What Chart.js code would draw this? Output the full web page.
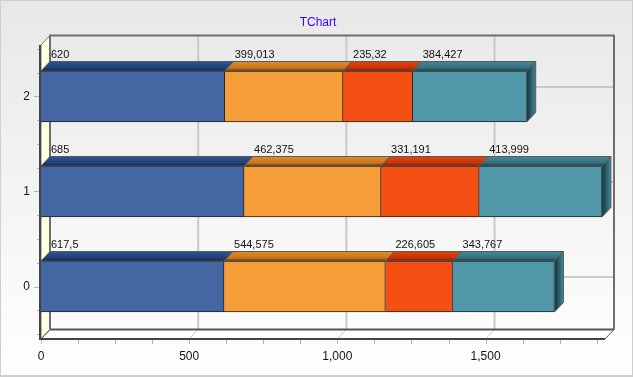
<!DOCTYPE html>
<html>
<head>
<meta charset="utf-8">
<title>TChart</title>
<script src="https://cdn.jsdelivr.net/npm/chart.js@4/dist/chart.umd.min.js"></script>
<style>
    html, body { margin: 0; padding: 0; background: #fff; }
    canvas { display: block; }
</style>
</head>
<body>
<canvas id="grafico" width="633" height="377"></canvas>
<script>
const categorias = [2, 1, 0];
const serie1 = [620, 685, 617.5];
const serie2 = [399.013, 462.375, 544.575];
const serie3 = [235.32, 331.191, 226.605];
const serie4 = [384.427, 413.999, 343.767];

const corFrente = ['#4466a3', '#f59d37', '#f55014', '#4f97a9'];
// topo das barras: claro, meio, escuro
const corTopo = [
    ['#2f5590', '#1f3f78', '#0b1c42'],
    ['#e08c2a', '#c8741a', '#603506'],
    ['#e2430c', '#c83206', '#701802'],
    ['#458898', '#33707f', '#0e323b']
];

// profundidade do efeito 3D
const DX = 9;
const DY = 9.5;

function paraRotulo(valor) {
    return String(valor).replace('.', ',');
}

const pluginFundo = {
    id: 'fundo3d',
    beforeDraw(chart) {
        const { ctx, width, height, chartArea: a, scales } = chart;
        const grad = ctx.createLinearGradient(0, 0, 0, height);
        grad.addColorStop(0, '#e8e8e8');
        grad.addColorStop(1, '#ffffff');
        ctx.save();
        ctx.fillStyle = grad;
        ctx.fillRect(0, 0, width, height);
        ctx.strokeStyle = '#cfcfcf';
        ctx.lineWidth = 2;
        ctx.strokeRect(0, 0, width, height - 1);

        // título
        ctx.fillStyle = '#3a00ff';
        ctx.font = '12px "Liberation Sans", sans-serif';
        ctx.textAlign = 'center';
        ctx.textBaseline = 'middle';
        ctx.fillText('TChart', 318, 23);

        // chão
        ctx.fillStyle = '#ffffff';
        ctx.beginPath();
        ctx.moveTo(a.left, a.bottom);
        ctx.lineTo(a.left + DX, a.bottom - DY);
        ctx.lineTo(a.right + DX, a.bottom - DY);
        ctx.lineTo(a.right, a.bottom);
        ctx.closePath();
        ctx.fill();

        // parede esquerda
        ctx.fillStyle = '#ffffe0';
        ctx.beginPath();
        ctx.moveTo(a.left, a.top);
        ctx.lineTo(a.left + DX, a.top - DY);
        ctx.lineTo(a.left + DX, a.bottom - DY);
        ctx.lineTo(a.left, a.bottom);
        ctx.closePath();
        ctx.fill();
        ctx.strokeStyle = '#777';
        ctx.lineWidth = 1;
        ctx.stroke();

        // grades na parede de trás
        ctx.strokeStyle = '#c9c9c9';
        ctx.lineWidth = 2;
        scales.x.ticks.filter(t => t.value > 0 && t.value % 500 === 0).forEach(t => {
            const x = scales.x.getPixelForValue(t.value);
            ctx.beginPath();
            ctx.moveTo(x + DX, a.top - DY);
            ctx.lineTo(x + DX, a.bottom - DY);
            ctx.stroke();
        });
        categorias.forEach(c => {
            const y = scales.y.getPixelForValue(c);
            ctx.beginPath();
            ctx.moveTo(a.left + DX, y - DY);
            ctx.lineTo(a.right + DX, y - DY);
            ctx.stroke();
        });
        ctx.lineWidth = 1;
        scales.x.ticks.filter(t => t.value > 0 && t.value % 500 === 0).forEach(t => {
            const x = scales.x.getPixelForValue(t.value);
            ctx.beginPath();
            ctx.moveTo(x + DX, a.bottom - DY);
            ctx.lineTo(x, a.bottom);
            ctx.stroke();
        });

        // contorno da parede de trás
        ctx.strokeStyle = '#6e6e6e';
        ctx.lineWidth = 2;
        ctx.beginPath();
        ctx.moveTo(a.left + DX, a.bottom - DY);
        ctx.lineTo(a.left + DX, a.top - DY);
        ctx.lineTo(a.right + DX, a.top - DY);
        ctx.lineTo(a.right + DX, a.bottom - DY);
        ctx.stroke();
        ctx.strokeStyle = '#555';
        ctx.beginPath();
        ctx.moveTo(a.left + DX, a.bottom - DY);
        ctx.lineTo(a.right + DX, a.bottom - DY);
        ctx.stroke();
        ctx.lineWidth = 1;
        ctx.beginPath();
        ctx.moveTo(a.right + DX, a.bottom - DY);
        ctx.lineTo(a.right, a.bottom);
        ctx.moveTo(a.left + DX, a.bottom - DY);
        ctx.lineTo(a.left, a.bottom);
        ctx.stroke();

        // marcas dos eixos
        ctx.strokeStyle = '#b4b4b4';
        ctx.lineWidth = 1;
        scales.y.ticks.forEach(t => {
            const y = Math.round(scales.y.getPixelForValue(t.value)) + 0.5;
            const comp = Number.isInteger(t.value) ? 6 : 3;
            ctx.beginPath();
            ctx.moveTo(a.left - 1 - comp, y);
            ctx.lineTo(a.left - 1, y);
            ctx.stroke();
        });
        scales.x.ticks.forEach(t => {
            const x = Math.round(scales.x.getPixelForValue(t.value)) + 0.5;
            ctx.beginPath();
            ctx.moveTo(x, a.bottom);
            ctx.lineTo(x, a.bottom + 5);
            ctx.stroke();
        });
        ctx.restore();
    },
    afterDatasetsDraw(chart) {
        const { ctx, chartArea: a } = chart;
        const total = chart.data.datasets.length;
        ctx.save();

        chart.data.datasets.forEach((ds, i) => {
            chart.getDatasetMeta(i).data.forEach((bar, j) => {
                const x0 = bar.base;
                const x1 = bar.x;
                const topo = bar.y - bar.height / 2;
                const base = bar.y + bar.height / 2;

                const grad = ctx.createLinearGradient(0, topo - DY, 0, topo);
                grad.addColorStop(0, corTopo[i][0]);
                grad.addColorStop(0.7, corTopo[i][1]);
                grad.addColorStop(1, corTopo[i][2]);
                ctx.fillStyle = grad;
                ctx.strokeStyle = '#5a5a5a';
                ctx.lineWidth = 1;
                ctx.beginPath();
                ctx.moveTo(x0, topo);
                ctx.lineTo(x0 + DX, topo - DY);
                ctx.lineTo(x1 + DX, topo - DY);
                ctx.lineTo(x1, topo);
                ctx.closePath();
                ctx.fill();
                ctx.stroke();

                // lado direito só na última série
                if (i === total - 1) {
                    const lado = ctx.createLinearGradient(x1, 0, x1 + DX, 0);
                    lado.addColorStop(0, corTopo[i][2]);
                    lado.addColorStop(1, corTopo[i][0]);
                    ctx.fillStyle = lado;
                    ctx.beginPath();
                    ctx.moveTo(x1, topo);
                    ctx.lineTo(x1 + DX, topo - DY);
                    ctx.lineTo(x1 + DX, base - DY);
                    ctx.lineTo(x1, base);
                    ctx.closePath();
                    ctx.fill();
                    ctx.stroke();
                }
            });
        });

        // eixos da frente
        ctx.strokeStyle = '#444';
        ctx.lineWidth = 2;
        ctx.beginPath();
        ctx.moveTo(a.left - 1, a.top);
        ctx.lineTo(a.left - 1, a.bottom);
        ctx.lineTo(a.right, a.bottom);
        ctx.stroke();

        // rótulos acima das barras
        ctx.beginPath();
        ctx.rect(a.left + DX, 0, chart.width, chart.height);
        ctx.clip();
        ctx.fillStyle = '#111';
        ctx.font = '11px "Liberation Sans", sans-serif';
        ctx.textBaseline = 'alphabetic';
        ctx.textAlign = 'left';
        chart.data.datasets.forEach((ds, i) => {
            chart.getDatasetMeta(i).data.forEach((bar, j) => {
                const topo = bar.y - bar.height / 2;
                ctx.fillText(paraRotulo(ds.data[j].x), bar.base + 10, topo - 13);
            });
        });
        ctx.restore();
    }
};

function montarSerie(nome, valores, cor) {
    return {
        label: nome,
        data: categorias.map((c, i) => ({ x: valores[i], y: c })),
        backgroundColor: cor,
        borderColor: '#222',
        borderWidth: 1,
        barThickness: 51
    };
}

new Chart(document.getElementById('grafico').getContext('2d'), {
    type: 'bar',
    data: {
        datasets: [
            montarSerie('Série 1', serie1, corFrente[0]),
            montarSerie('Série 2', serie2, corFrente[1]),
            montarSerie('Série 3', serie3, corFrente[2]),
            montarSerie('Série 4', serie4, corFrente[3])
        ]
    },
    options: {
        indexAxis: 'y',
        responsive: false,
        animation: false,
        layout: { padding: { left: 0, right: 28, top: 45, bottom: 0 } },
        plugins: {
            legend: { display: false },
            tooltip: { enabled: false },
            title: { display: false }
        },
        scales: {
            x: {
                type: 'linear',
                stacked: true,
                min: 0,
                max: 1903,
                grid: { display: false, drawTicks: false },
                border: { display: false },
                afterFit(scale) { scale.height = 38; },
                ticks: {
                    stepSize: 125,
                    includeBounds: false,
                    autoSkip: false,
                    maxRotation: 0,
                    padding: 10,
                    color: '#111',
                    font: { family: '"Liberation Sans", sans-serif', size: 12 },
                    callback: v => v % 500 === 0 ? v.toLocaleString('en-US') : ''
                }
            },
            y: {
                type: 'linear',
                stacked: true,
                offset: false,
                min: -0.5526,
                max: 2.542,
                grid: { display: false, drawTicks: false },
                border: { display: false },
                afterFit(scale) { scale.width = 41; },
                ticks: {
                    stepSize: 0.25,
                    includeBounds: false,
                    autoSkip: false,
                    padding: 11,
                    color: '#111',
                    font: { family: '"Liberation Sans", sans-serif', size: 12 },
                    callback: v => Number.isInteger(v) ? String(v) : ''
                }
            }
        }
    },
    plugins: [pluginFundo]
});
</script>
</body>
</html>
